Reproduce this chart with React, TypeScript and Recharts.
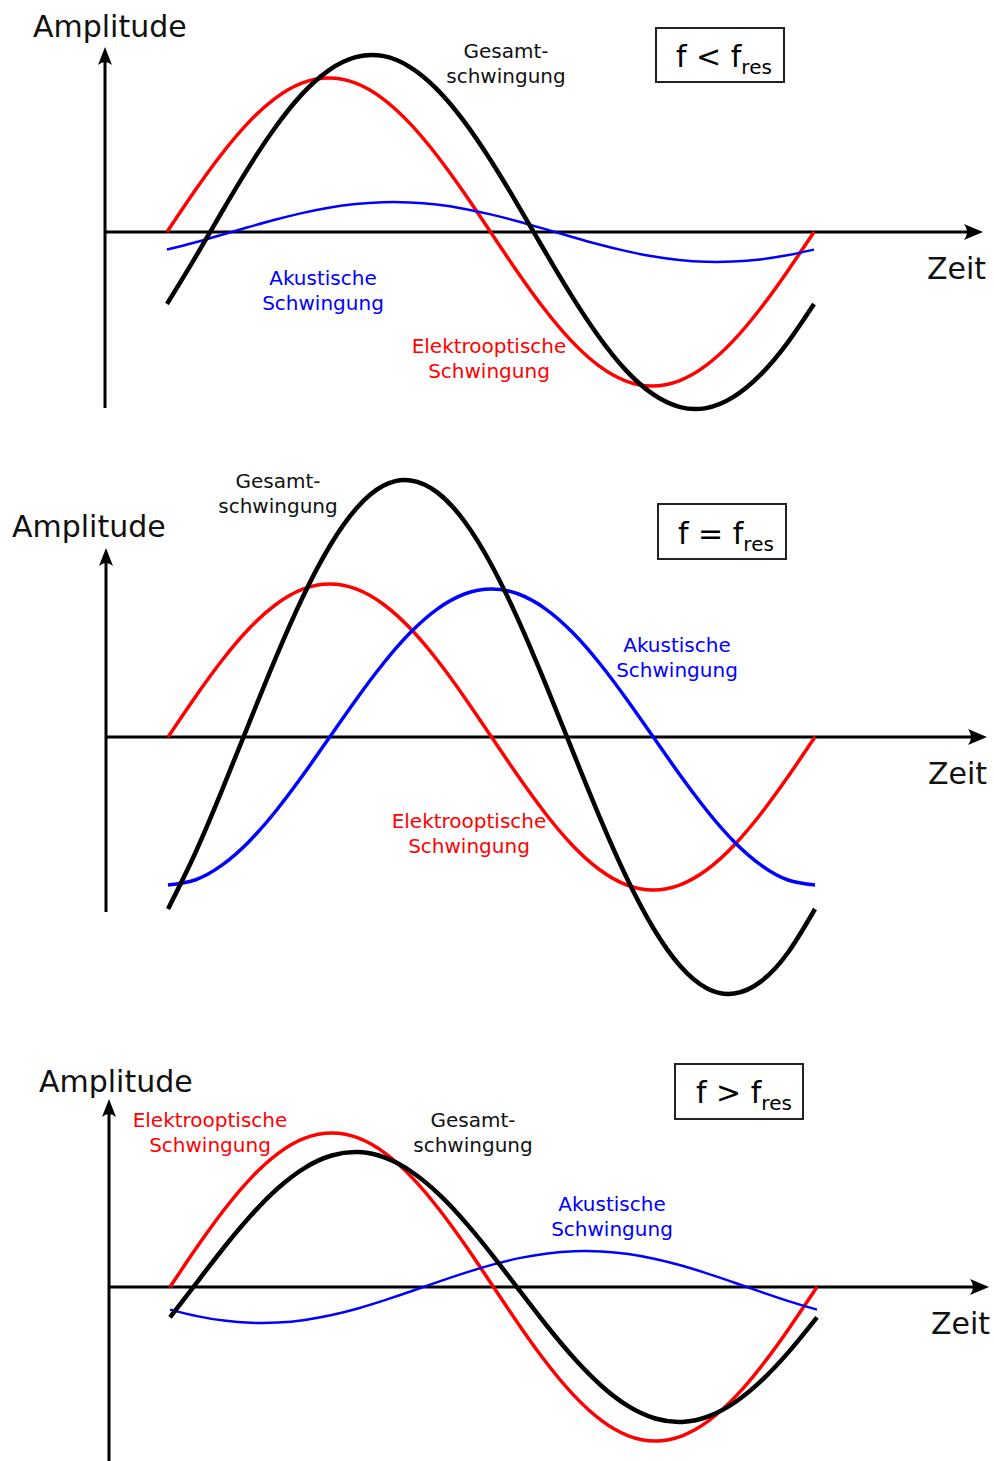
import {
  Line,
  LineChart,
  ReferenceDot,
  ReferenceLine,
  XAxis,
  YAxis,
} from "recharts";

// phase of the sampled points, in degrees over one period
const phaseDeg = [
  0, 15, 30, 45, 60, 75, 90, 105, 120, 135, 150, 165, 180, 195, 210, 225, 240,
  255, 270, 285, 300, 315, 330, 345, 360,
];

// f < f_res (in pixels above the time axis)
const elektroBelow = [
  0, 39.9, 77, 108.9, 133.4, 148.8, 154, 148.8, 133.4, 108.9, 77, 39.9, 0,
  -39.9, -77, -108.9, -133.4, -148.8, -154, -148.8, -133.4, -108.9, -77, -39.9,
  0,
];
const akustikBelow = [
  -17.6, -10.8, -3.1, 4.7, 12.2, 18.9, 24.3, 28.0, 29.8, 29.6, 27.4, 23.3,
  17.6, 10.8, 3.1, -4.7, -12.2, -18.9, -24.3, -28.0, -29.8, -29.6, -27.4,
  -23.3, -17.6,
];
const gesamtBelow = [
  -72.0, -27.7, 18.5, 63.4, 104.0, 137.6, 161.7, 174.8, 176.1, 165.2, 143.2,
  111.4, 72.0, 27.7, -18.5, -63.4, -104.0, -137.6, -161.7, -174.8, -176.1,
  -165.2, -143.2, -111.4, -72.0,
];

// f = f_res
const elektroRes = [
  0, 39.6, 76.5, 108.2, 132.5, 147.8, 153, 147.8, 132.5, 108.2, 76.5, 39.6, 0,
  -39.6, -76.5, -108.2, -132.5, -147.8, -153, -147.8, -132.5, -108.2, -76.5,
  -39.6, 0,
];
const akustikRes = [
  -148, -143.0, -128.2, -104.7, -74, -38.3, 0, 38.3, 74, 104.7, 128.2, 143.0,
  148, 143.0, 128.2, 104.7, 74, 38.3, 0, -38.3, -74, -104.7, -128.2, -143.0,
  -148,
];
const gesamtRes = [
  -172.0, -116.7, -53.4, 13.4, 79.4, 140.0, 191.0, 229.0, 251.4, 256.6, 244.4,
  215.5, 172.0, 116.7, 53.4, -13.4, -79.4, -140.0, -191.0, -229.0, -251.4,
  -256.6, -244.4, -215.5, -172.0,
];

// f > f_res
const elektroAbove = [
  0, 39.9, 77, 108.9, 133.4, 148.8, 154, 148.8, 133.4, 108.9, 77, 39.9, 0,
  -39.9, -77, -108.9, -133.4, -148.8, -154, -148.8, -133.4, -108.9, -77, -39.9,
  0,
];
const akustikAbove = [
  -22.6, -29.1, -33.6, -35.8, -35.6, -32.9, -28.0, -21.2, -12.9, -3.8, 5.6,
  14.6, 22.6, 29.1, 33.6, 35.8, 35.6, 32.9, 28.0, 21.2, 12.9, 3.8, -5.6, -14.6,
  -22.6,
];
const gesamtAbove = [
  -30.4, 4.7, 39.5, 71.5, 98.7, 119.2, 131.5, 134.9, 129.1, 114.5, 92.1, 63.4,
  30.4, -4.7, -39.5, -71.5, -98.7, -119.2, -131.5, -134.9, -129.1, -114.5,
  -92.1, -63.4, -30.4,
];

const W = 994;
const H = 1461;
const FONT = "DejaVu Sans, Verdana, sans-serif";
const RED = "#ff0000";
const BLUE = "#0000ff";

type Panel = {
  top: number;
  height: number;
  zeroY: number;
  yAxisX: number;
  yAxisTop: number;
  yAxisBottom: number;
  curveX0: number;
  curveX1: number;
  arrowX: number;
  blueWidth: number;
  elektro: number[];
  akustik: number[];
  gesamt: number[];
};

const panels: Panel[] = [
  {
    top: 0,
    height: 440,
    zeroY: 232,
    yAxisX: 105,
    yAxisTop: 47,
    yAxisBottom: 408,
    curveX0: 167,
    curveX1: 814,
    arrowX: 983,
    blueWidth: 2.5,
    elektro: elektroBelow,
    akustik: akustikBelow,
    gesamt: gesamtBelow,
  },
  {
    top: 440,
    height: 580,
    zeroY: 737,
    yAxisX: 106,
    yAxisTop: 548,
    yAxisBottom: 912,
    curveX0: 168,
    curveX1: 815,
    arrowX: 987,
    blueWidth: 3.5,
    elektro: elektroRes,
    akustik: akustikRes,
    gesamt: gesamtRes,
  },
  {
    top: 1020,
    height: 441,
    zeroY: 1287,
    yAxisX: 109,
    yAxisTop: 1099,
    yAxisBottom: 1461,
    curveX0: 170,
    curveX1: 817,
    arrowX: 989,
    blueWidth: 2.5,
    elektro: elektroAbove,
    akustik: akustikAbove,
    gesamt: gesamtAbove,
  },
];

type TextItem = {
  x: number;
  y: number;
  text: string;
  color?: string;
  size?: number;
  anchor?: "start" | "middle" | "end";
};

const labels: TextItem[] = [
  // panel 1
  { x: 33, y: 37, text: "Amplitude", size: 30 },
  { x: 927, y: 279, text: "Zeit", size: 30 },
  { x: 506, y: 58, text: "Gesamt-", anchor: "middle" },
  { x: 506, y: 83, text: "schwingung", anchor: "middle" },
  { x: 323, y: 285, text: "Akustische", anchor: "middle", color: BLUE },
  { x: 323, y: 310, text: "Schwingung", anchor: "middle", color: BLUE },
  { x: 489, y: 353, text: "Elektrooptische", anchor: "middle", color: RED },
  { x: 489, y: 378, text: "Schwingung", anchor: "middle", color: RED },
  // panel 2
  { x: 12, y: 537, text: "Amplitude", size: 30 },
  { x: 928, y: 784, text: "Zeit", size: 30 },
  { x: 278, y: 488, text: "Gesamt-", anchor: "middle" },
  { x: 278, y: 513, text: "schwingung", anchor: "middle" },
  { x: 677, y: 652, text: "Akustische", anchor: "middle", color: BLUE },
  { x: 677, y: 677, text: "Schwingung", anchor: "middle", color: BLUE },
  { x: 469, y: 828, text: "Elektrooptische", anchor: "middle", color: RED },
  { x: 469, y: 853, text: "Schwingung", anchor: "middle", color: RED },
  // panel 3
  { x: 39, y: 1092, text: "Amplitude", size: 30 },
  { x: 931, y: 1334, text: "Zeit", size: 30 },
  { x: 210, y: 1127, text: "Elektrooptische", anchor: "middle", color: RED },
  { x: 210, y: 1152, text: "Schwingung", anchor: "middle", color: RED },
  { x: 473, y: 1127, text: "Gesamt-", anchor: "middle" },
  { x: 473, y: 1152, text: "schwingung", anchor: "middle" },
  { x: 612, y: 1211, text: "Akustische", anchor: "middle", color: BLUE },
  { x: 612, y: 1236, text: "Schwingung", anchor: "middle", color: BLUE },
];

type FreqBox = { x: number; y: number; w: number; h: number; fx: number; fy: number; op: string };

const freqBoxes: FreqBox[] = [
  { x: 656, y: 28, w: 128, h: 54, fx: 676, fy: 67, op: "<" },
  { x: 658, y: 504, w: 128, h: 55, fx: 678, fy: 544, op: "=" },
  { x: 675, y: 1064, w: 128, h: 55, fx: 696, fy: 1103, op: ">" },
];

const arrowRight = (props: any) => {
  const { cx, cy } = props;
  return (
    <path
      d={`M${cx},${cy} L${cx - 19},${cy - 8} Q${cx - 13},${cy} ${cx - 19},${cy + 8} Z`}
      fill="#000"
    />
  );
};

const arrowUp = (props: any) => {
  const { cx, cy } = props;
  return (
    <path
      d={`M${cx},${cy} L${cx - 7},${cy + 18} Q${cx},${cy + 12} ${cx + 7},${cy + 18} Z`}
      fill="#000"
    />
  );
};

function WavePanel({ panel }: { panel: Panel }) {
  const span = panel.curveX1 - panel.curveX0;
  const toDeg = (px: number) => ((px - panel.curveX0) / span) * 360;
  const toVal = (py: number) => panel.zeroY - py;
  const rows = phaseDeg.map((p, i) => ({
    phase: p,
    elektro: panel.elektro[i],
    akustik: panel.akustik[i],
    gesamt: panel.gesamt[i],
  }));
  const axisDeg = toDeg(panel.yAxisX);

  return (
    <div style={{ position: "absolute", left: 0, top: panel.top }}>
      <LineChart
        width={W}
        height={panel.height}
        data={rows}
        margin={{ top: 0, bottom: 0, left: panel.curveX0, right: W - panel.curveX1 }}
      >
        <XAxis type="number" dataKey="phase" domain={[0, 360]} hide />
        <YAxis
          type="number"
          domain={[toVal(panel.top + panel.height), toVal(panel.top)]}
          hide
        />
        <ReferenceLine
          segment={[
            { x: axisDeg, y: 0 },
            { x: toDeg(panel.arrowX - 12), y: 0 },
          ]}
          stroke="#000"
          strokeWidth={3}
          ifOverflow="visible"
        />
        <ReferenceLine
          segment={[
            { x: axisDeg, y: toVal(panel.yAxisBottom) },
            { x: axisDeg, y: toVal(panel.yAxisTop + 12) },
          ]}
          stroke="#000"
          strokeWidth={3}
          ifOverflow="visible"
        />
        <ReferenceDot
          x={toDeg(panel.arrowX)}
          y={0}
          ifOverflow="visible"
          shape={arrowRight}
        />
        <ReferenceDot
          x={axisDeg}
          y={toVal(panel.yAxisTop)}
          ifOverflow="visible"
          shape={arrowUp}
        />
        <Line
          type="natural"
          dataKey="elektro"
          stroke={RED}
          strokeWidth={3.5}
          dot={false}
          activeDot={false}
          isAnimationActive={false}
        />
        <Line
          type="natural"
          dataKey="akustik"
          stroke={BLUE}
          strokeWidth={panel.blueWidth}
          dot={false}
          activeDot={false}
          isAnimationActive={false}
        />
        <Line
          type="natural"
          dataKey="gesamt"
          stroke="#000"
          strokeWidth={4.5}
          dot={false}
          activeDot={false}
          isAnimationActive={false}
        />
      </LineChart>
    </div>
  );
}

export default function App() {
  return (
    <div
      style={{
        position: "absolute",
        left: 0,
        top: 0,
        width: W,
        height: H,
        background: "#fff",
        overflow: "hidden",
      }}
    >
      {panels.map((p, i) => (
        <WavePanel key={i} panel={p} />
      ))}
      <svg
        width={W}
        height={H}
        style={{ position: "absolute", left: 0, top: 0, pointerEvents: "none" }}
        fontFamily={FONT}
      >
        {labels.map((l, i) => (
          <text
            key={i}
            x={l.x}
            y={l.y}
            fill={l.color ?? "#111"}
            fontSize={l.size ?? 20}
            textAnchor={l.anchor ?? "start"}
          >
            {l.text}
          </text>
        ))}
        {freqBoxes.map((b, i) => (
          <g key={i}>
            <rect
              x={b.x}
              y={b.y}
              width={b.w}
              height={b.h}
              fill="none"
              stroke="#222"
              strokeWidth={2}
            />
            <text x={b.fx} y={b.fy} fontSize={30} fill="#000">
              {`f ${b.op} f`}
              <tspan fontSize={20} dy={7}>
                res
              </tspan>
            </text>
          </g>
        ))}
      </svg>
    </div>
  );
}
